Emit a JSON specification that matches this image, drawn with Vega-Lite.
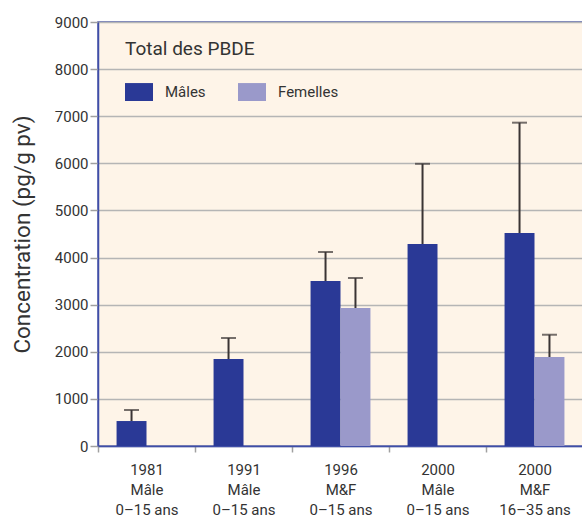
{
  "$schema": "https://vega.github.io/schema/vega-lite/v6.json",
  "autosize": "none",
  "width": 485,
  "height": 424,
  "padding": {"left": 98, "top": 22, "right": 0, "bottom": 74},
  "background": "#ffffff",
  "config": {
    "font": "Roboto",
    "view": {"fill": "#fef4e8", "stroke": "#4a56a8", "strokeWidth": 1.5},
    "axis": {"labelColor": "#333333", "titleColor": "#333333", "domainColor": "#3f4ea8", "domainWidth": 1.5, "tickColor": "#a0a0a0", "tickWidth": 1.5}
  },
  "data": {
    "values": [
      {"cat": "1981|Mâle|0–15 ans", "sexe": "Mâles", "val": 530, "err": 764},
      {"cat": "1991|Mâle|0–15 ans", "sexe": "Mâles", "val": 1847, "err": 2292},
      {"cat": "1996|M&F|0–15 ans", "sexe": "Mâles", "val": 3502, "err": 4118},
      {"cat": "1996|M&F|0–15 ans", "sexe": "Femelles", "val": 2929, "err": 3566},
      {"cat": "2000|Mâle|0–15 ans", "sexe": "Mâles", "val": 4288, "err": 5990},
      {"cat": "2000|M&F|16–35 ans", "sexe": "Mâles", "val": 4521, "err": 6863},
      {"cat": "2000|M&F|16–35 ans", "sexe": "Femelles", "val": 1889, "err": 2362}
    ]
  },
  "encoding": {
    "x": {
      "field": "cat", "type": "nominal", "sort": null,
      "scale": {"paddingInner": 0, "paddingOuter": 0},
      "axis": {"title": null, "labelAngle": 0, "labelExpr": "isValid(datum.value) ? split(datum.value, '|') : ''", "labelFontSize": 15, "labelLineHeight": 20, "labelPadding": 10, "tickSize": 6, "tickBand": "extent", "labelBaseline": "top"}
    },
    "xOffset": {"field": "sexe", "type": "nominal", "scale": {"domain": ["Mâles", "Femelles"], "paddingInner": 0, "paddingOuter": 0.62}}
  },
  "layer": [
    {
      "mark": {"type": "bar"},
      "encoding": {
        "y": {
          "field": "val", "type": "quantitative",
          "scale": {"domain": [0, 9000], "nice": false},
          "axis": {"title": "Concentration (pg/g pv)", "titleFontSize": 22.5, "titleFontWeight": "normal", "titlePadding": 20, "values": [0,1000,2000,3000,4000,5000,6000,7000,8000,9000], "format": "d", "labelFontSize": 15, "labelPadding": 2, "tickSize": 8, "gridColor": "#b5b5b5", "gridWidth": 1.5}
        },
        "color": {
          "field": "sexe", "type": "nominal",
          "scale": {"domain": ["Mâles", "Femelles"], "range": ["#2a3996", "#9a99ca"]},
          "legend": {"title": "Total des PBDE", "orient": "none", "legendX": 27, "legendY": 18, "direction": "horizontal", "titleFontSize": 19, "titleFontWeight": "normal", "titleColor": "#333333", "titlePadding": 19, "labelFontSize": 15, "labelColor": "#333333", "labelOffset": 12, "columnPadding": 32, "symbolType": "M-1,-0.64H1V0.64H-1Z", "symbolSize": 784, "symbolStrokeWidth": 0, "symbolOpacity": 1}
        }
      }
    },
    {
      "mark": {"type": "rule", "color": "#3a3434", "strokeWidth": 2},
      "encoding": {"y": {"field": "val", "type": "quantitative"}, "y2": {"field": "err"}}
    },
    {
      "mark": {"type": "tick", "color": "#3a3434", "size": 15, "thickness": 2},
      "encoding": {"y": {"field": "err", "type": "quantitative"}}
    }
  ]
}
